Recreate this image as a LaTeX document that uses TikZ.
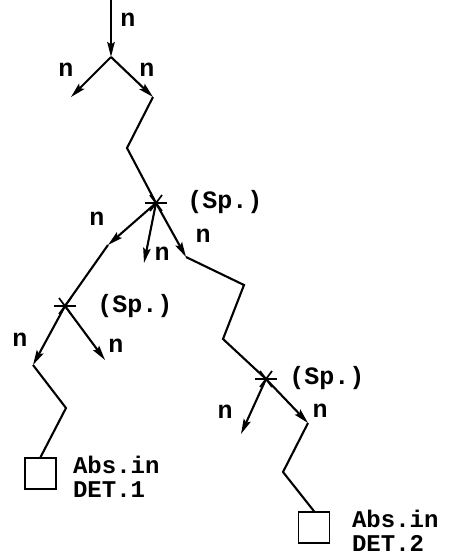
\documentclass[tikz,border=0pt]{standalone}
\usepackage{fontspec}
\setmonofont{Liberation Mono}
\usetikzlibrary{arrows.meta,calc}
\begin{document}
\begin{tikzpicture}[x=1pt,y=-1pt,
  line width=2.1pt,
  arr/.style={-{Stealth[length=15pt,width=7.5pt,inset=2.5pt]}},
  lbl/.style={inner sep=0pt,font=\fontsize{25}{24}\selectfont\ttfamily\bfseries},
  twolbl/.style={lbl,font=\fontsize{24}{24}\selectfont\ttfamily\bfseries,align=left,anchor=north west},
  box/.style={draw,line width=1.6pt,minimum width=31pt,minimum height=31pt,inner sep=0pt},
  starline/.style={line width=1.7pt}]
\useasboundingbox (0,0) rectangle (461,555);
\newcommand{\mystar}[1]{%
  \draw[starline] ($(#1)+(-11,0)$) -- ($(#1)+(11,0)$);
  \draw[starline] ($(#1)+(-6,-8)$) -- ($(#1)+(6,8)$);
  \draw[starline] ($(#1)+(6,-8)$) -- ($(#1)+(-6,8)$);}
\coordinate (top) at (111,0);
\coordinate (j) at (111,57);
\coordinate (jl) at (71,97);
\coordinate (jr) at (153,97);
\coordinate (z1) at (127,148);
\coordinate (s1) at (156,203);
\coordinate (a1) at (108,245);
\coordinate (m1) at (144,263);
\coordinate (r1) at (186,257);
\coordinate (z2) at (244,285);
\coordinate (z3) at (223,339);
\coordinate (s2) at (65,306);
\coordinate (l2) at (33,365);
\coordinate (r2) at (105,360);
\coordinate (z4) at (66,408);
\coordinate (s3) at (266,379);
\coordinate (l3) at (241,434);
\coordinate (r3) at (308,423);
\coordinate (z5) at (283,472);
\node[box] (b1) at (40.5,473.5) {};
\node[box] (b2) at (314,527.5) {};
% connectors
\draw[arr] (top) -- (j);
\draw[arr] (j) -- (jl);
\draw[arr] (j) -- (jr);
\draw (jr) -- (z1) -- (s1);
\draw[arr] (s1) -- (a1);
\draw (a1) -- (s2);
\draw[arr] (s1) -- (m1);
\draw[arr] (s1) -- (r1);
\draw (r1) -- (z2) -- (z3) -- (s3);
\draw[arr] (s2) -- (l2);
\draw[arr] (s2) -- (r2);
\draw (l2) -- (z4) -- (b1.north);
\draw[arr] (s3) -- (l3);
\draw[arr] (s3) -- (r3);
\draw (r3) -- (z5) -- (b2.north);
\mystar{s1}
\mystar{s2}
\mystar{s3}
% labels
\node[lbl] (n1) at (128,20) {n};
\node[lbl] (n2) at (66,70) {n};
\node[lbl] (n3) at (147,70) {n};
\node[lbl] (sp1) at (225,202) {(Sp.)};
\node[lbl] (n4) at (97,219) {n};
\node[lbl] (n5) at (162,254) {n};
\node[lbl] (n6) at (203,236) {n};
\node[lbl] (sp2) at (135,306) {(Sp.)};
\node[lbl] (n7) at (20,340) {n};
\node[lbl] (n8) at (116,346) {n};
\node[lbl] (sp3) at (327,378) {(Sp.)};
\node[lbl] (n9) at (225,412) {n};
\node[lbl] (n10) at (320,411) {n};
\node[twolbl] (t1) at (72,455) {Abs.in\\DET.1};
\node[twolbl] (t2) at (351,509) {Abs.in\\DET.2};
\end{tikzpicture}
\end{document}
